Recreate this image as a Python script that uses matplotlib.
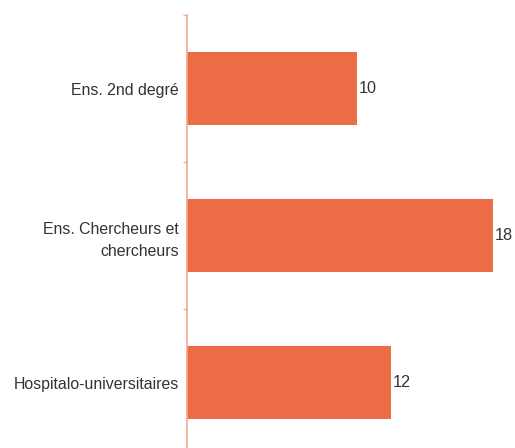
import matplotlib
matplotlib.use("Agg")
import matplotlib.pyplot as plt
import numpy as np

categories = ["Ens. 2nd degré", "Ens. Chercheurs et\nchercheurs", "Hospitalo-universitaires"]
values = [10, 18, 12]

bar_color = "#EC6D45"
axis_color = "#F5A88C"
text_color = "#333333"

plt.rcParams["font.family"] = ["Liberation Sans", "DejaVu Sans"]

fig = plt.figure(figsize=(5.15, 4.48), dpi=100)
ax = fig.add_axes([187 / 515, -8 / 448, 328 / 515, 441 / 448])

y = np.arange(len(categories))
ax.barh(y, values, height=0.49, color=bar_color, edgecolor="none")
ax.set_ylim(len(categories) - 0.5, -0.5)
ax.set_xlim(0, 19.3)

for yi, v in zip(y, values):
    ax.text(v + 0.08, yi, str(v), va="center", ha="left", fontsize=11.7, color=text_color)

ax.set_yticks(y)
ax.set_yticklabels(categories, fontsize=11.4, color=text_color, ha="right", linespacing=1.55)
ax.tick_params(axis="y", which="major", length=0, pad=6)
ax.set_yticks(np.arange(-0.5, len(categories)), minor=True)
ax.tick_params(axis="y", which="minor", length=3, width=1, color=axis_color, direction="out")
ax.set_xticks([])

for side in ["top", "right", "bottom"]:
    ax.spines[side].set_visible(False)
ax.spines["left"].set_color(axis_color)
ax.spines["left"].set_linewidth(1.2)

fig.savefig("out.png", dpi=100)
